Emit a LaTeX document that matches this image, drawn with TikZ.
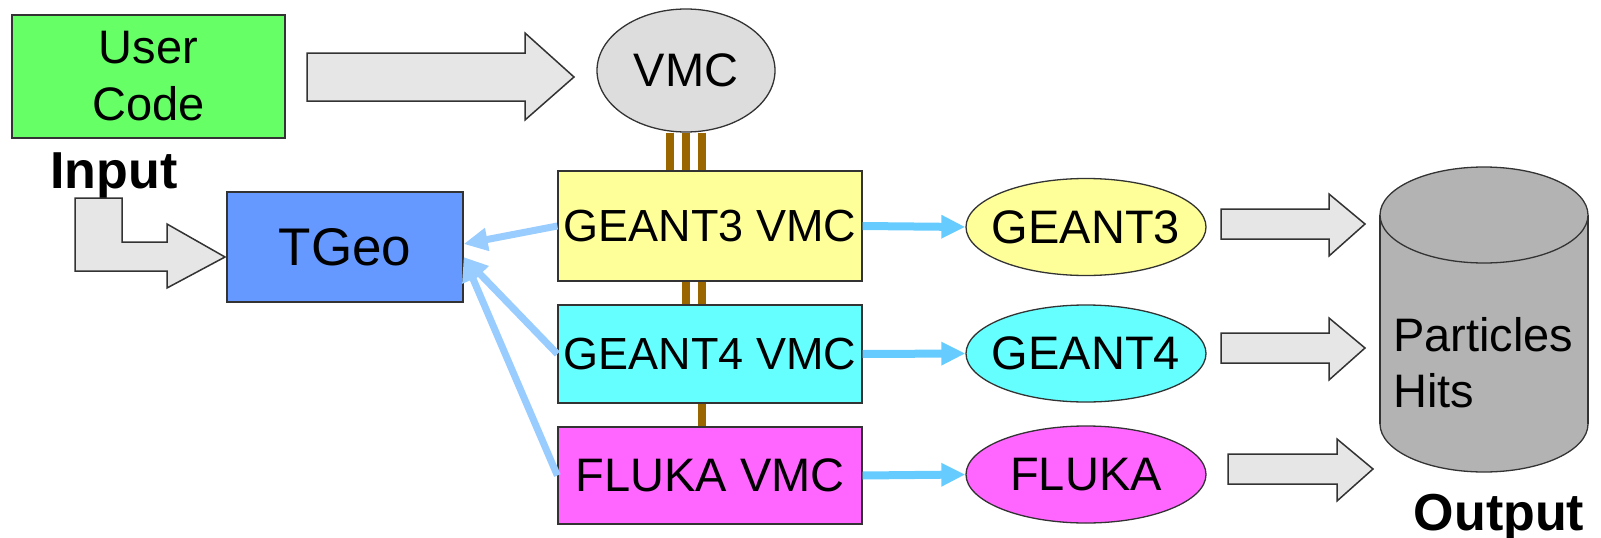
\documentclass[tikz,border=0pt]{standalone}
\usepackage{fontspec}
\setmainfont{Liberation Sans}
\usepackage{tikz}
\usetikzlibrary{arrows.meta,shapes.geometric}
\definecolor{usergreen}{HTML}{66FF66}
\definecolor{vmcgray}{HTML}{DDDDDD}
\definecolor{geoblue}{HTML}{6699FF}
\definecolor{gyellow}{HTML}{FFFF99}
\definecolor{gcyan}{HTML}{66FFFF}
\definecolor{fmagenta}{HTML}{FF66FF}
\definecolor{arrowgray}{HTML}{E6E6E6}
\definecolor{cylgray}{HTML}{B3B3B3}
\definecolor{edgegray}{HTML}{333333}
\definecolor{busbrown}{HTML}{996600}
\definecolor{feedblue}{HTML}{66CCFF}
\definecolor{backblue}{HTML}{99CCFF}

\begin{document}
\begin{tikzpicture}[x=1pt,y=-1pt,
    every node/.style={inner sep=0pt},
    box/.style={draw=edgegray,line width=1.3pt},
    blob/.style={ellipse,draw=edgegray,line width=1.3pt,inner xsep=-10pt,
                 minimum width=240pt,minimum height=97pt,font=\fontsize{47}{56}\selectfont},
    vmcbox/.style={box,minimum width=304pt},
    fat/.style={fill=arrowgray,draw=edgegray,line width=1.5pt},
    bus/.style={draw=busbrown,line width=8pt},
    feed/.style={draw=feedblue,line width=8pt,-{Triangle[length=24pt,width=22pt]}},
    back/.style={draw=backblue,line width=7pt,-{Triangle[length=24pt,width=22pt]}},
    big/.style={font=\bfseries\fontsize{52}{60}\selectfont}]
  \useasboundingbox (0,0) rectangle (1601,538);
  % Top row
  \node[box,fill=usergreen,minimum width=273pt,minimum height=123pt,align=center,
        font=\fontsize{47}{57}\selectfont] (user) at (148.5,76.5) {User\\Code};
  \node[blob,fill=vmcgray,minimum width=178pt,minimum height=123pt] (vmc) at (686,70.5) {VMC};
  \draw[fat] (307,53) -- (525,53) -- (525,33) -- (574,77) -- (525,120) -- (525,101)
    -- (307,101) -- cycle;
  % Input side
  \node[big,anchor=base] (input) at (114,188) {Input};
  \node[box,fill=geoblue,minimum width=236pt,minimum height=110pt,
        font=\fontsize{53}{60}\selectfont] (tgeo) at (345,247) {TGeo};
  \draw[fat] (75,198) -- (122,198) -- (122,242) -- (167,242) -- (167,224) -- (225,257)
    -- (167,288) -- (167,271) -- (75,271) -- cycle;
  % Transport engines
  \node[vmcbox,fill=gyellow,minimum height=110pt,font=\fontsize{45}{54}\selectfont]
    (g3vmc) at (710,226) {GEANT3 VMC};
  \node[vmcbox,fill=gcyan,minimum height=98pt,font=\fontsize{45}{54}\selectfont]
    (g4vmc) at (710,354) {GEANT4 VMC};
  \node[vmcbox,fill=fmagenta,minimum height=97pt,font=\fontsize{47}{56}\selectfont]
    (flukavmc) at (710,475.5) {FLUKA VMC};
  \node[blob,fill=gyellow] (g3) at (1086,227) {GEANT3};
  \node[blob,fill=gcyan] (g4) at (1086,353.5) {GEANT4};
  \node[blob,fill=fmagenta] (fluka) at (1086,474.5) {FLUKA};
  % Bus lines
  \foreach \dx in {-40,-24,-8}
    \draw[bus] ([xshift=\dx]g3vmc.north |- vmc.south) -- ([xshift=\dx]g3vmc.north);
  \foreach \dx in {-24,-8}
    \draw[bus] ([xshift=\dx]g3vmc.south) -- ([xshift=\dx]g4vmc.north);
  \draw[bus] ([xshift=-8]g4vmc.south) -- ([xshift=-8]flukavmc.north);
  % Connectors
  \draw[feed] (g3vmc.east) -- (g3.west);
  \draw[feed] (g4vmc.east) -- (g4.west);
  \draw[feed] (flukavmc.east) -- (fluka.west);
  \draw[back] (g3vmc.west) -- ([yshift=3]tgeo.east);
  \draw[back] (g4vmc.west) -- ([yshift=-10]tgeo.east);
  \draw[back] (flukavmc.west) -- ([yshift=-10]tgeo.east);
  % Output arrows
  \draw[fat] (1221,209) -- (1329,209) -- (1329,194) -- (1365,224) -- (1329,256) -- (1329,239)
    -- (1221,239) -- cycle;
  \draw[fat] (1221,333) -- (1329,333) -- (1329,318) -- (1365,348) -- (1329,380) -- (1329,363)
    -- (1221,363) -- cycle;
  \draw[fat] (1228,454) -- (1337,454) -- (1337,439) -- (1373,469) -- (1337,501) -- (1337,484)
    -- (1228,484) -- cycle;
  % Store
  \filldraw[fill=cylgray,draw=edgegray,line width=1.3pt] (1484,424) ellipse (104 and 48);
  \fill[cylgray] (1380,215) rectangle (1588,424);
  \draw[edgegray,line width=1.3pt] (1380,215) -- (1380,424) (1588,215) -- (1588,424);
  \filldraw[fill=cylgray,draw=edgegray,line width=1.3pt] (1484,215) ellipse (104 and 48);
  \node[anchor=west,align=left,font=\fontsize{47}{56}\selectfont] (store) at (1393,363)
    {Particles\\Hits};
  \node[big,anchor=base] (output) at (1499,530) {Output};
\end{tikzpicture}
\end{document}
